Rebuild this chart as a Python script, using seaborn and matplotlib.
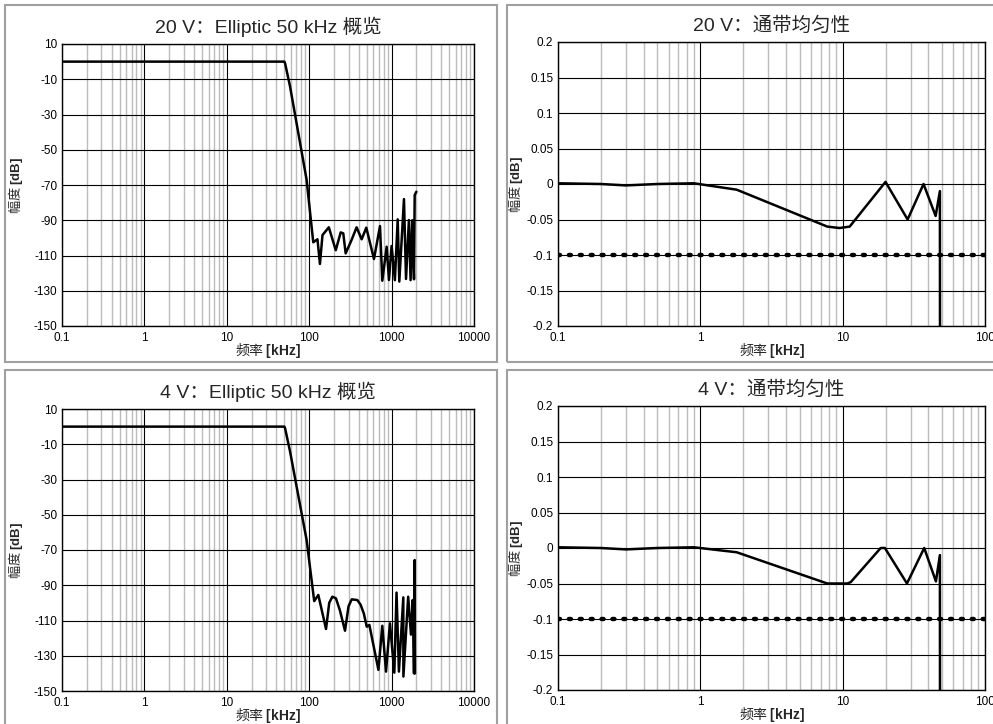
import numpy as np
import pandas as pd
import matplotlib
matplotlib.use('Agg')
import matplotlib.pyplot as plt
from matplotlib.patches import Rectangle
from matplotlib.ticker import NullFormatter
import seaborn as sns

# overview, 20 V
tl_freq = [0.1, 1, 10, 50, 51, 58.5, 93, 112, 126, 135, 145, 173, 210, 241, 259, 277, 328, 376, 433, 493,
           611, 723, 771, 871, 929, 1000, 1096, 1186, 1240, 1413, 1496, 1622, 1700, 1780, 1870, 1906, 2000]
tl_db = [0, 0, 0, 0, -1, -14, -67, -102.5, -100.8, -114.8, -98.4, -94, -107, -96.9, -97.4, -108.8, -101, -94,
         -100.8, -94.2, -112, -93.3, -124.3, -105, -123.9, -104.6, -124, -89.5, -124.8, -78, -123.3, -89.9,
         -124, -90, -123.5, -75.7, -73.8]

# overview, 4 V
bl_freq = [0.1, 1, 10, 50, 51, 58.5, 93, 115, 129, 160, 175, 191, 211, 235, 272, 300, 328, 384, 420, 460, 499,
           537, 692, 771, 855, 955, 1079, 1148, 1227, 1387, 1390, 1589, 1718, 1803, 1870, 1906, 1920]
bl_db = [0, 0, 0, 0, -1, -14, -64.3, -99, -95.5, -114.8, -100, -96.5, -97.4, -104, -115.8, -102, -98, -98.4,
         -101, -106, -113.5, -112.5, -138, -113, -139, -111.6, -139.6, -94.2, -139, -96.9, -141.8, -96.5, -118,
         -98.4, -140, -75.7, -140]

# passband, 20 V
tr_freq = [0.1, 0.2, 0.3, 0.5, 0.9, 1.8, 7.8, 9.5, 11.2, 20, 28.6, 37, 45, 48.2, 48.3]
tr_db = [0.001, 0, -0.002, 0, 0.001, -0.008, -0.06, -0.062, -0.06, 0.003, -0.05, 0, -0.045, -0.01, -0.25]

# passband, 4 V
br_freq = [0.1, 0.2, 0.3, 0.5, 0.9, 1.8, 7.8, 10.8, 11.4, 18.5, 19.8, 28.3, 37.4, 45.2, 48.2, 48.3]
br_db = [0.001, 0, -0.002, 0, 0.001, -0.006, -0.05, -0.05, -0.048, 0, 0, -0.05, 0, -0.047, -0.01, -0.25]

lim_freq = [0.1, 100]
lim_db = [-0.1, -0.1]

titles = ['20 V：Elliptic 50 kHz 概览', '20 V：通带均匀性', '4 V：Elliptic 50 kHz 概览', '4 V：通带均匀性']
ov_xticks = [0.1, 1, 10, 100, 1000, 10000]
ov_yticks = [10, -10, -30, -50, -70, -90, -110, -130, -150]
pb_xticks = [0.1, 1, 10, 100]
pb_yticks = [0.2, 0.15, 0.1, 0.05, 0, -0.05, -0.1, -0.15, -0.2]

sns.set_style('white')
plt.rcParams['font.family'] = ['Liberation Sans', 'Noto Sans CJK SC']
plt.rcParams['mathtext.fontset'] = 'custom'
plt.rcParams['mathtext.rm'] = 'Noto Sans CJK SC'
plt.rcParams['mathtext.bf'] = 'Liberation Sans:bold'

W, H = 993, 724
fig = plt.figure(figsize=(W / 100, H / 100), dpi=100)


def px_axes(l, t, r, b):
    return fig.add_axes([l / W, 1 - b / H, (r - l) / W, (b - t) / H])


def frame(l, t, r, b):
    fig.patches.append(Rectangle((l / W, 1 - b / H), (r - l) / W, (b - t) / H, transform=fig.transFigure,
                                 fill=False, edgecolor='#a0a0a0', lw=1.5))


frame(5, 5, 497, 362)
frame(507, 5, 1010, 362)
frame(5, 370, 497, 740)
frame(507, 370, 1010, 740)

axes = [px_axes(62, 44, 474, 326), px_axes(558, 42, 985, 326),
        px_axes(62, 409, 474, 691), px_axes(558, 406, 985, 690)]
series = [(tl_freq, tl_db), (tr_freq, tr_db), (bl_freq, bl_db), (br_freq, br_db)]

for i, ax in enumerate(axes):
    overview = i % 2 == 0
    f, d = series[i]
    ax.set_xscale('log')
    ax.set_axisbelow(True)
    ax.grid(which='major', color='black', lw=0.8)
    ax.grid(which='minor', axis='x', color='#bcbcbc', lw=1.0)
    if not overview:
        sns.lineplot(x=lim_freq, y=lim_db, ax=ax, color='black', lw=3.2,
                     estimator=None, sort=False)
        ax.lines[-1].set_dashes((0.45, 2.0))
        ax.lines[-1].set_dash_capstyle('round')
    sns.lineplot(x=f, y=d, ax=ax, color='black', lw=1.8, estimator=None, sort=False)
    if overview:
        ax.set_xlim(0.1, 10000)
        ax.set_ylim(-150, 10)
        ax.set_xticks(ov_xticks, [f'{v:g}' for v in ov_xticks])
        ax.set_yticks(ov_yticks, [f'{v:g}' for v in ov_yticks])
    else:
        ax.set_xlim(0.1, 100)
        ax.set_ylim(-0.2, 0.2)
        ax.set_xticks(pb_xticks, [f'{v:g}' for v in pb_xticks])
        ax.set_yticks(pb_yticks, [f'{v:g}' for v in pb_yticks])
    ax.xaxis.set_minor_formatter(NullFormatter())
    ax.tick_params(which='both', length=0, labelsize=8.5, colors='black')
    ax.tick_params(axis='x', pad=4.5)
    ax.tick_params(axis='y', which='major', length=2.5, width=0.8, pad=1)
    for s in ax.spines.values():
        s.set_color('black')
        s.set_linewidth(1.0)
    ax.set_title(titles[i], fontsize=14, pad=8)
    ax.set_xlabel('频率 $\\mathbf{[kHz]}$', fontsize=10, fontfamily='Noto Sans CJK SC')
    ax.set_ylabel('幅度 $\\mathbf{[dB]}$', fontsize=9.5, fontfamily='Noto Sans CJK SC')
    ax.xaxis.label.set_va('center')
    ax.yaxis.label.set_va('center')
    ax.xaxis.set_label_coords(0.5, -0.086)
    ax.yaxis.set_label_coords(-0.114 if overview else -0.1, 0.5)

fig.savefig('out.png', dpi=100)
